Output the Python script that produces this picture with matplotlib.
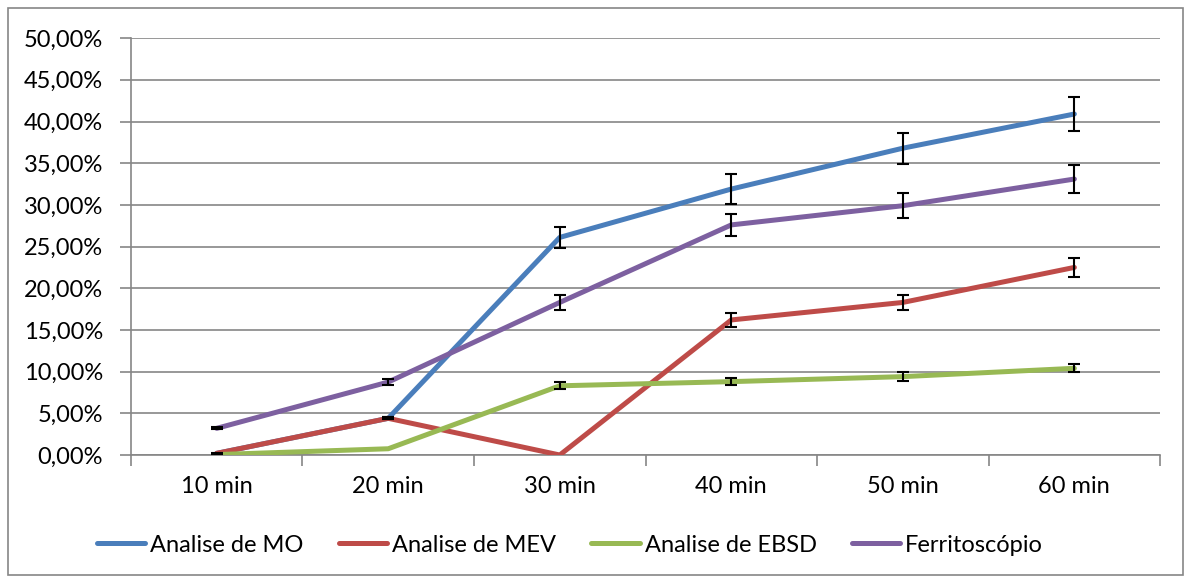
import matplotlib
matplotlib.use("Agg")
import matplotlib.pyplot as plt
from matplotlib.patches import Rectangle
from matplotlib.ticker import FuncFormatter, FixedLocator

categories = ["10 min", "20 min", "30 min", "40 min", "50 min", "60 min"]
mo = [0.2, 4.4, 26.1, 31.9, 36.8, 40.9]
mo_err = [0.1, 0.1, 1.3, 1.75, 1.85, 2.05]
mev = [0.2, 4.4, 0.0, 16.2, 18.3, 22.5]
mev_err = [0.0, 0.1, 0.0, 0.8, 0.95, 1.15]
ebsd = [0.05, 0.75, 8.3, 8.8, 9.4, 10.4]
ebsd_err = [0.0, 0.0, 0.4, 0.45, 0.5, 0.5]
ferr = [3.2, 8.75, 18.3, 27.6, 29.9, 33.1]
ferr_err = [0.1, 0.4, 0.85, 1.35, 1.5, 1.65]
labels = ["Analise de MO", "Analise de MEV", "Analise de EBSD", "Ferritoscópio"]
colors = ["#4A7EBB", "#BE4B48", "#98B954", "#7D60A0"]

plt.rcParams['font.family'] = ['Lato', 'DejaVu Sans']

fig = plt.figure(figsize=(11.85, 5.78), dpi=100)
ax = fig.add_axes([0.1105, 0.2128, 0.8685, 0.7212])

fig.patches.append(Rectangle((8/1185, 3/578), 1175/1185, 567/578, transform=fig.transFigure,
                             fill=False, edgecolor="#868686", linewidth=1.2))

x = list(range(len(categories)))
series = [mo, mev, ebsd, ferr]
errs = [mo_err, mev_err, ebsd_err, ferr_err]
for s, c, l in zip(series, colors, labels):
    ax.plot(x, s, color=c, linewidth=3.6, label=l, solid_capstyle='round', zorder=3)
for s, e in zip(series, errs):
    xs = [xi for xi, ei in zip(x, e) if ei > 0]
    ys = [si for si, ei in zip(s, e) if ei > 0]
    es = [ei for ei in e if ei > 0]
    ax.errorbar(xs, ys, yerr=es, fmt='none', ecolor='black', elinewidth=1.5, capsize=4,
                capthick=1.5, zorder=4)

ax.set_xlim(-0.5, 5.5)
ax.set_ylim(0, 50)
ax.set_yticks(range(0, 51, 5))
ax.yaxis.set_major_formatter(FuncFormatter(lambda v, p: f"{v:.2f}".replace('.', ',') + "%"))
ax.grid(axis='y', color='#868686', linewidth=1.2, zorder=0)
ax.set_axisbelow(True)

ax.xaxis.set_major_locator(FixedLocator([i - 0.5 for i in range(len(categories) + 1)]))
ax.xaxis.set_major_formatter(FuncFormatter(lambda v, p: ""))
ax.set_xticks(x, categories, minor=True)
ax.tick_params(axis='x', which='major', length=8, width=1.2, color='#868686', direction='out')
ax.tick_params(axis='x', which='minor', length=0, pad=15, labelsize=17)
ax.tick_params(axis='y', length=8, width=1.2, color='#868686', direction='out', labelsize=17, pad=12)

for sp in ['top', 'right']:
    ax.spines[sp].set_visible(False)
for sp in ['left', 'bottom']:
    ax.spines[sp].set_color('#868686')
    ax.spines[sp].set_linewidth(1.2)

handles, labs = ax.get_legend_handles_labels()
fig.legend(handles, labs, loc='center', bbox_to_anchor=(0.481, 0.057), ncol=4, frameon=False,
           fontsize=17, handlelength=2.05, handletextpad=0.2, columnspacing=1.5)

fig.savefig("out.png", dpi=100)
